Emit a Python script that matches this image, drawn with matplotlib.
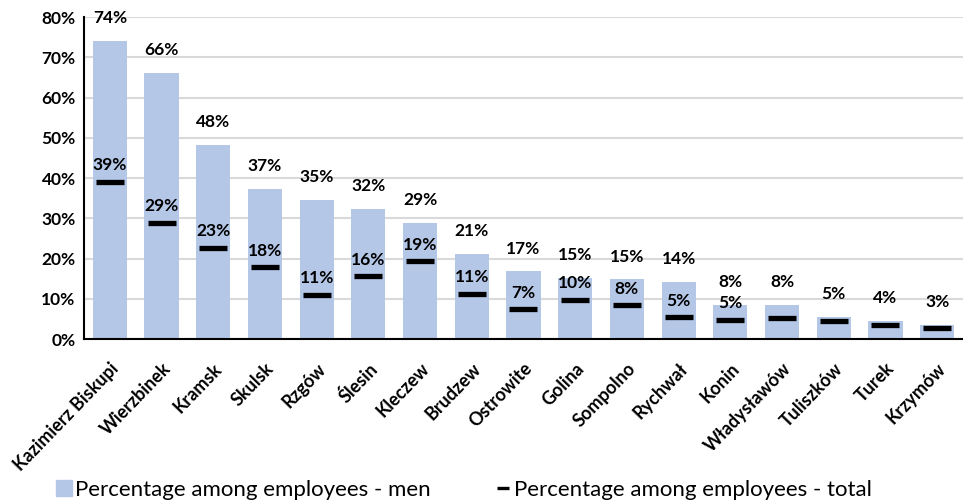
import matplotlib.pyplot as plt
from matplotlib.patches import Patch
from matplotlib.lines import Line2D

# municipalities and shares of employees (percent)
communes = ['Kazimierz Biskupi', 'Wierzbinek', 'Kramsk', 'Skulsk', 'Rzgów', 'Ślesin',
            'Kleczew', 'Brudzew', 'Ostrowite', 'Golina', 'Sompolno', 'Rychwał',
            'Konin', 'Władysławów', 'Tuliszków', 'Turek', 'Krzymów']
men = [74.0, 66.2, 48.2, 37.2, 34.6, 32.3, 28.9, 21.2, 16.8, 15.2, 14.8, 14.1,
       8.4, 8.4, 5.4, 4.4, 3.4]
total = [39.0, 28.8, 22.6, 17.8, 11.0, 15.6, 19.3, 11.3, 7.4, 9.8, 8.4, 5.4,
         4.8, 5.1, 4.6, 3.6, 2.8]
# labels are only shown for the first 13 totals
total_labelled = 13

plt.rcParams['font.family'] = ['Lato', 'DejaVu Sans']

fig = plt.figure(figsize=(9.63, 5.03), dpi=100)
ax = fig.add_axes([0.0872, 0.326, 0.9128, 0.640])

x = list(range(len(communes)))
ax.bar(x, men, width=0.66, color='#B4C7E7', zorder=2)
ax.plot(x, total, linestyle='none', marker='_', markersize=19.5,
        markeredgewidth=3.8, color='black', zorder=3)

for i, v in enumerate(men):
    ax.annotate(f'{v:.0f}%', (i, v), xytext=(0, 16.5), textcoords='offset points',
                ha='center', va='center', fontsize=12.5, fontweight='bold', zorder=4)
for i, v in enumerate(total[:total_labelled]):
    ax.annotate(f'{v:.0f}%', (i, v), xytext=(0, 12), textcoords='offset points',
                ha='center', va='center', fontsize=12.5, fontweight='bold', zorder=4)

ax.set_xlim(-0.5, len(communes) - 0.5)
ax.set_ylim(0, 80)
ax.set_yticks(range(0, 81, 10))
ax.set_yticklabels([f'{t}%' for t in range(0, 81, 10)], fontsize=12.5, fontweight='bold')
ax.set_xticks(x)
ax.set_xticklabels(communes, rotation=46, ha='right', rotation_mode='anchor',
                   fontsize=13, fontweight='bold')
ax.tick_params(axis='y', length=0, pad=6)
ax.tick_params(axis='x', length=0, pad=15)
ax.yaxis.grid(True, color='#D9D9D9', linewidth=1.5, zorder=0)
ax.set_axisbelow(True)
for side in ['top', 'right']:
    ax.spines[side].set_visible(False)
for side in ['left', 'bottom']:
    ax.spines[side].set_linewidth(1.5)
    ax.spines[side].set_color('black')

handles = [Patch(color='#B4C7E7', label='Percentage among employees - men'),
           Line2D([], [], linestyle='none', marker='_', markersize=8.5,
                  markeredgewidth=2.4, color='black',
                  label='Percentage among employees - total')]
fig.legend(handles=handles, loc='center', bbox_to_anchor=(0.482, 0.026), ncol=2,
           frameon=False, fontsize=16, handlelength=0.7, handleheight=0.7,
           handletextpad=0.15, columnspacing=2.9)

fig.savefig('out.png', dpi=100)
